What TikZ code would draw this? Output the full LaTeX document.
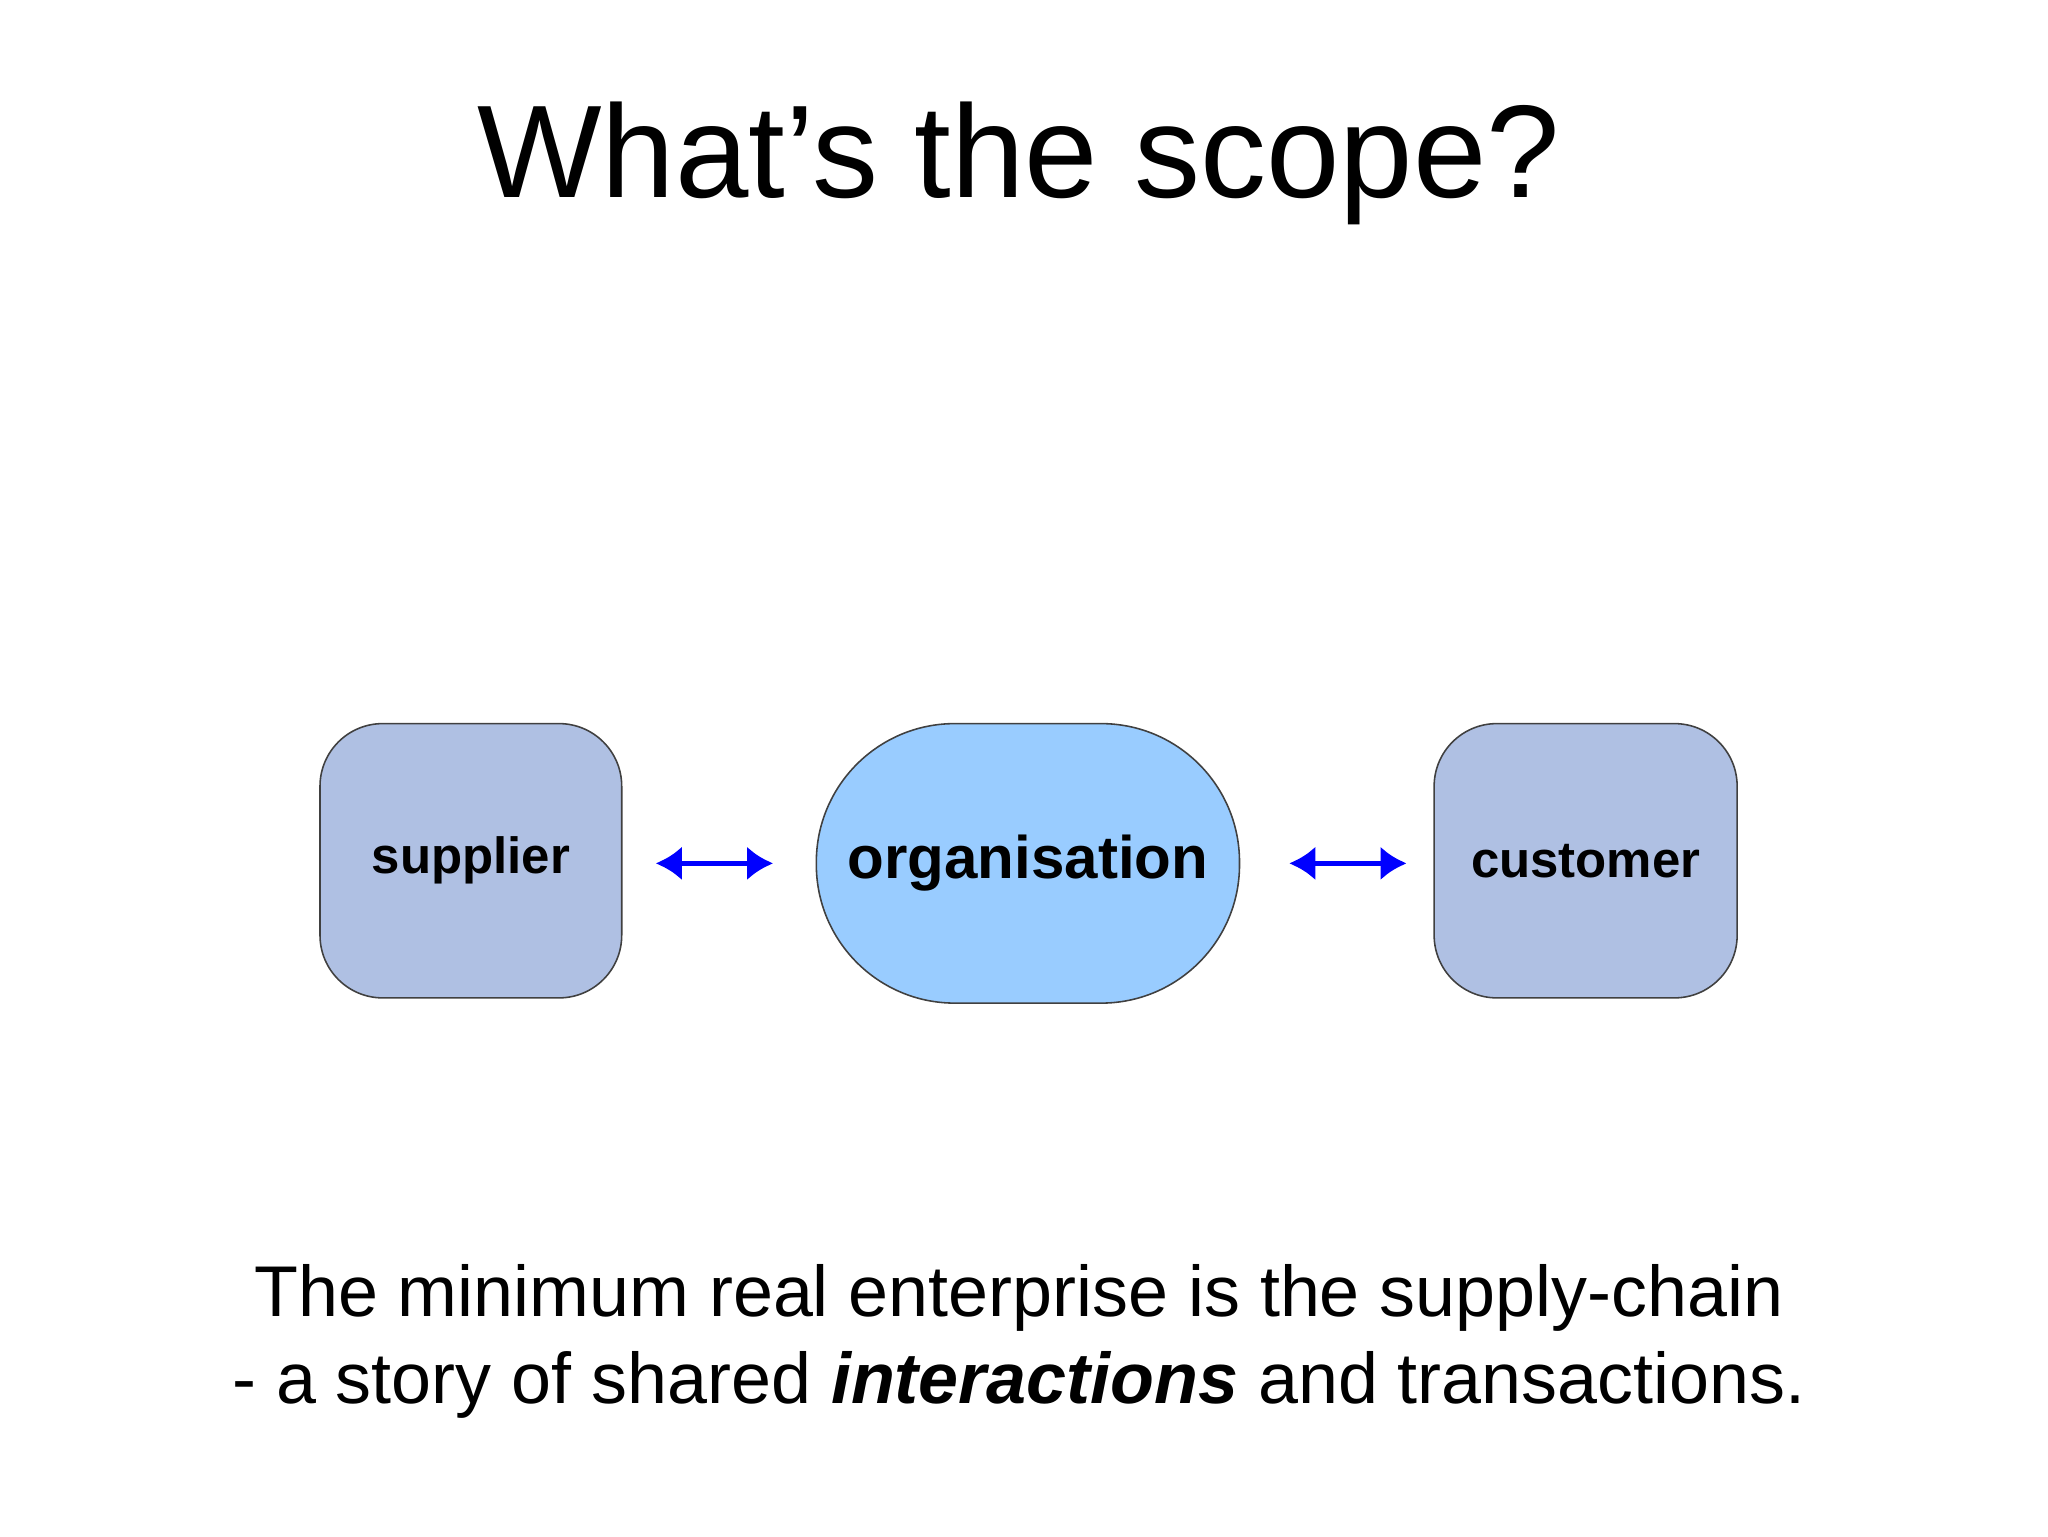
\documentclass[tikz,border=0pt]{standalone}
\usepackage{fontspec}
\setmainfont{Liberation Sans}
\usetikzlibrary{arrows.meta}
\definecolor{sidefill}{RGB}{175,192,227}
\definecolor{orgfill}{RGB}{153,204,255}
\begin{document}
\begin{tikzpicture}[x=1pt,y=-1pt,
  box/.style={draw=black!75,line width=1.2pt,fill=#1,inner sep=0pt},
  link/.style={draw=blue,line width=4pt,{Latex[length=20pt,width=26pt]}-{Latex[length=20pt,width=26pt]}}]
\useasboundingbox[fill=white] (0,0) rectangle (1568,1176);
\node[font=\fontsize{101}{116}\selectfont] (title) at (780,125) {What’s the scope?};
\node[box=sidefill,minimum width=231pt,minimum height=210pt,rounded corners=48pt,font=\fontsize{39}{45}\selectfont\bfseries] (sup) at (360.5,659) {supplier};
\node[box=orgfill,minimum width=324pt,minimum height=214pt,rounded corners=106pt,font=\fontsize{46}{52}\selectfont\bfseries] (org) at (787,661) {organisation};
\node[box=sidefill,minimum width=232pt,minimum height=210pt,rounded corners=48pt,font=\fontsize{39}{45}\selectfont\bfseries] (cus) at (1214,659) {customer};
\coordinate (a1) at (502,661); \coordinate (a2) at (592,661);
\coordinate (b1) at (987,661); \coordinate (b2) at (1077,661);
\draw[link] (a1) -- (a2);
\draw[link] (b1) -- (b2);
\node[align=center,font=\fontsize{55}{66}\selectfont] (cap) at (780,1027) {The minimum real enterprise is the supply-chain\\ - a story of shared \textbf{\textit{interactions}} and transactions.};
\end{tikzpicture}
\end{document}
